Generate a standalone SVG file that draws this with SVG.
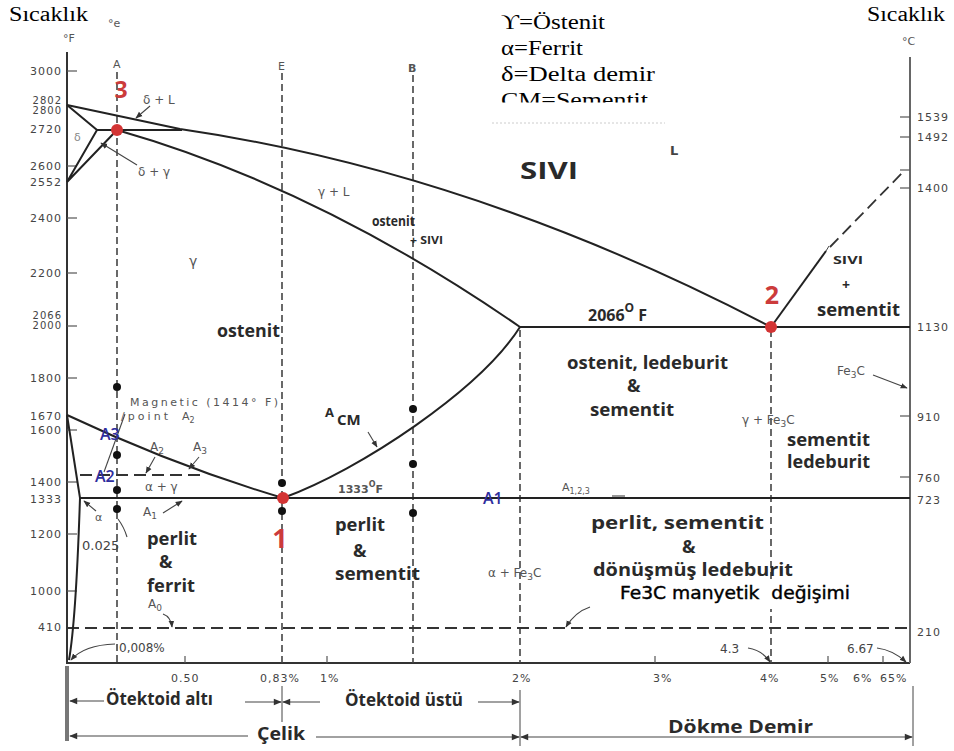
<svg xmlns="http://www.w3.org/2000/svg" width="954" height="751" viewBox="0 0 954 751">
<defs>
<style>
.ax{stroke:#333;stroke-width:2;fill:none}
.rax{stroke:#666;stroke-width:2;fill:none}
.ln{stroke:#222;stroke-width:2;fill:none}
.dash{stroke:#444;stroke-width:1.6;stroke-dasharray:7 4;fill:none}
.hdash{stroke:#333;stroke-width:1.8;stroke-dasharray:12 6;fill:none}
.thin{stroke:#444;stroke-width:1;fill:none}
.ldr{stroke:#444;stroke-width:1.1;fill:none}
.tk{stroke:#555;stroke-width:1.2}
.num{font-family:"DejaVu Sans",sans-serif;font-size:11px;fill:#444;letter-spacing:1px}
.sm{font-family:"DejaVu Sans",sans-serif;font-size:11px;fill:#555}
.bd{font-family:"Open Sans",sans-serif;font-weight:700;font-size:18px;fill:#2a2a2a}
.red{font-family:"Open Sans",sans-serif;font-weight:700;fill:#cc3b3b;text-anchor:middle}
.blue{font-family:"Open Sans",sans-serif;font-weight:600;font-size:16px;fill:#2e2e9e}
.serif{font-family:"Liberation Serif","DejaVu Serif",serif;font-size:20px;fill:#000}
.rdot{fill:#d33434}
.bdot{fill:#111}
</style>
<marker id="ah" viewBox="0 0 10 10" refX="9" refY="5" markerWidth="7" markerHeight="7" orient="auto-start-reverse" markerUnits="userSpaceOnUse"><path d="M0,1 L10,5 L0,9 z" fill="#333"/></marker>
<marker id="ahb" viewBox="0 0 10 10" refX="9" refY="5" markerWidth="9" markerHeight="8" orient="auto-start-reverse" markerUnits="userSpaceOnUse"><path d="M0,1 L10,5 L0,9 z" fill="#333"/></marker>
<clipPath id="legclip"><rect x="490" y="0" width="200" height="102.5"/></clipPath>
</defs>
<rect width="954" height="751" fill="#fff"/>

<g id="titles">
<text class="serif" x="9" y="21" textLength="79" lengthAdjust="spacingAndGlyphs">Sıcaklık</text>
<text class="serif" x="867" y="21" textLength="78" lengthAdjust="spacingAndGlyphs">Sıcaklık</text>
<text class="sm" x="63" y="42" font-size="10">°F</text>
<text class="sm" x="108" y="27" font-size="9">°e</text>
<text class="sm" x="902" y="45" font-size="10">°C</text>
</g>

<g id="legend" clip-path="url(#legclip)">
<text class="serif" x="501" y="29" textLength="104" lengthAdjust="spacingAndGlyphs">ϒ=Östenit</text>
<text class="serif" x="501" y="55" textLength="82" lengthAdjust="spacingAndGlyphs">α=Ferrit</text>
<text class="serif" x="501" y="81" textLength="154" lengthAdjust="spacingAndGlyphs">δ=Delta demir</text>
<text class="serif" x="501" y="107" textLength="147" lengthAdjust="spacingAndGlyphs">CM=Sementit</text>
</g>
<line x1="492" y1="123" x2="665" y2="123" stroke="#ccc" stroke-width="1" stroke-dasharray="2 2"/>

<g id="axes">
<line class="ax" x1="67" y1="52" x2="67" y2="663"/>
<line class="ax" x1="66" y1="663" x2="910" y2="663"/>
<line class="rax" x1="910" y1="57" x2="910" y2="663"/>
<g id="left-ticks">
<line class="tk" x1="67" y1="71" x2="77" y2="71"/>
<line class="tk" x1="67" y1="166" x2="77" y2="166"/>
<line class="tk" x1="67" y1="218" x2="77" y2="218"/>
<line class="tk" x1="67" y1="273" x2="77" y2="273"/>
<line class="tk" x1="67" y1="326" x2="77" y2="326"/>
<line class="tk" x1="67" y1="378" x2="77" y2="378"/>
<line class="tk" x1="67" y1="430" x2="77" y2="430"/>
<line class="tk" x1="67" y1="482" x2="77" y2="482"/>
<line class="tk" x1="67" y1="534" x2="77" y2="534"/>
<line class="tk" x1="67" y1="591" x2="77" y2="591"/>
</g>
<g id="left-labels" class="num" text-anchor="end">
<text x="62" y="75">3000</text>
<text x="62" y="104" font-size="10">2802</text>
<text x="62" y="114" font-size="10">2800</text>
<text x="62" y="133">2720</text>
<text x="62" y="170">2600</text>
<text x="62" y="186">2552</text>
<text x="62" y="222">2400</text>
<text x="62" y="277">2200</text>
<text x="62" y="319" font-size="10">2066</text>
<text x="62" y="329" font-size="10">2000</text>
<text x="62" y="382">1800</text>
<text x="62" y="420">1670</text>
<text x="62" y="434">1600</text>
<text x="62" y="486">1400</text>
<text x="62" y="503">1333</text>
<text x="62" y="538">1200</text>
<text x="62" y="595">1000</text>
<text x="62" y="631">410</text>
</g>
<g id="right-ticks">
<line class="tk" x1="900" y1="117" x2="910" y2="117"/>
<line class="tk" x1="900" y1="137" x2="910" y2="137"/>
<line class="tk" x1="900" y1="170" x2="910" y2="170"/>
<line class="tk" x1="900" y1="188" x2="910" y2="188"/>
<line class="tk" x1="900" y1="416" x2="910" y2="416"/>
<line class="tk" x1="900" y1="477" x2="910" y2="477"/>
</g>
<g id="right-labels" class="num">
<text x="917" y="121">1539</text>
<text x="917" y="141">1492</text>
<text x="917" y="192">1400</text>
<text x="917" y="331">1130</text>
<text x="917" y="421">910</text>
<text x="917" y="482">760</text>
<text x="917" y="504">723</text>
<text x="917" y="636">210</text>
</g>
<g id="bottom-ticks">
<line class="tk" x1="185" y1="656" x2="185" y2="663"/>
<line class="tk" x1="327" y1="656" x2="327" y2="663"/>
<line class="tk" x1="655" y1="656" x2="655" y2="663"/>
<line class="tk" x1="828" y1="656" x2="828" y2="663"/>
<line class="tk" x1="883" y1="656" x2="883" y2="663"/>
</g>
<g id="bottom-labels" class="num">
<text x="171" y="682">0.50</text>
<text x="260" y="682">0,83%</text>
<text x="320" y="682">1%</text>
<text x="512" y="682">2%</text>
<text x="653" y="682">3%</text>
<text x="760" y="682">4%</text>
<text x="820" y="682">5%</text>
<text x="853" y="682">6%</text>
<text x="880" y="682">65%</text>
</g>
</g>

<g id="guides">
<line class="dash" x1="117" y1="72" x2="117" y2="663"/>
<line class="dash" x1="282" y1="73" x2="282" y2="663"/>
<line class="dash" x1="413" y1="75" x2="413" y2="663"/>
<line class="dash" x1="520" y1="330" x2="520" y2="663"/>
<line class="dash" x1="771" y1="330" x2="771" y2="663"/>
<line class="hdash" x1="67" y1="628" x2="910" y2="628"/>
<path class="hdash" d="M80,475 L203,475" stroke-dasharray="10 5"/>
<path class="hdash" d="M830,247 L903,172" stroke-dasharray="8 5"/>
<text class="sm" x="113" y="68">A</text>
<text class="sm" x="278" y="70">E</text>
<text class="sm" x="408" y="72" font-weight="bold">B</text>
</g>

<g id="phase-lines">
<path class="ln" d="M67,105 L180,129 Q474.5,172 771,327"/>
<path class="ln" d="M97,130 L182,130"/>
<path class="ln" d="M67,105 L97,130 L67,182 M67,182 L117,130"/>
<path class="ln" d="M117,130 Q318.5,187.5 520,327"/>
<path class="ln" d="M520,327 L910,327"/>
<path class="ln" d="M283,498 C360,470 480,390 520,327"/>
<path class="ln" d="M67,415 Q175,466 283,498"/>
<path class="ln" d="M80,498 L910,498"/>
<path class="ln" d="M67,415 L80,498"/>
<path class="ln" d="M80,498 Q76,620 69,660"/>
<path class="ln" d="M771,327 L826,251"/>
<path class="thin" d="M826,251 L829,246"/>
</g>

<g id="leaders">
<path class="ldr" marker-end="url(#ah)" d="M150,106 L136,118"/>
<path class="ldr" marker-end="url(#ah)" d="M137,165 L101,143"/>
<path class="ldr" d="M125,414 L104,472"/>
<path class="ldr" marker-end="url(#ah)" d="M155,457 L146,473"/>
<path class="ldr" marker-end="url(#ah)" d="M199,457 L189,469"/>
<path class="ldr" marker-end="url(#ah)" d="M163,513 L182,501"/>
<path class="ldr" marker-end="url(#ah)" d="M96,511 L84,501"/>
<path class="ldr" d="M118,519 Q124,527 127,537"/>
<path class="ldr" marker-end="url(#ah)" d="M163,614 Q171,617 172,627"/>
<path class="ldr" marker-end="url(#ah)" d="M115,644 Q84,645 71,660"/>
<path class="ldr" marker-end="url(#ah)" d="M368,432 L377,447"/>
<path class="ldr" marker-end="url(#ah)" d="M873,375 L907,388"/>
<path class="ldr" marker-end="url(#ah)" d="M748,648 Q762,650 770,662"/>
<path class="ldr" marker-end="url(#ah)" d="M877,648 Q893,650 906,662"/>
<path class="ldr" marker-end="url(#ah)" d="M590,607 Q575,612 566,627"/>
<path class="ldr" d="M612,496 L625,496"/>
</g>

<g id="points">
<circle class="rdot" cx="117" cy="130" r="6"/>
<circle class="rdot" cx="283" cy="498" r="6"/>
<circle class="rdot" cx="771" cy="327" r="6"/>
<circle class="bdot" cx="117" cy="387" r="4"/>
<circle class="bdot" cx="117" cy="455" r="4"/>
<circle class="bdot" cx="117" cy="490" r="4"/>
<circle class="bdot" cx="117" cy="509" r="4"/>
<circle class="bdot" cx="282" cy="483" r="4"/>
<circle class="bdot" cx="282" cy="511" r="4"/>
<circle class="bdot" cx="413" cy="409" r="4"/>
<circle class="bdot" cx="413" cy="464" r="4"/>
<circle class="bdot" cx="413" cy="513" r="4"/>
<text class="red" x="121" y="98" font-size="23">3</text>
<text class="red" x="280" y="548" font-size="27">1</text>
<text class="red" x="772" y="304" font-size="25">2</text>
</g>

<g id="small-labels" class="sm">
<text x="143" y="104" font-size="12">δ + L</text>
<text x="138" y="176" font-size="12">δ + γ</text>
<text x="74" y="141" font-size="11" fill="#888">δ</text>
<text x="670" y="155" font-size="13" font-weight="bold" fill="#444">L</text>
<text x="318" y="196" font-size="12">γ + L</text>
<text x="189" y="266" font-size="14">γ</text>
<text x="130" y="406" font-size="11" textLength="148" lengthAdjust="spacing">Magnetic (1414° F)</text>
<text x="121" y="420" font-size="11" textLength="47" lengthAdjust="spacing">/point</text>
<text x="182" y="420" font-size="11">A<tspan font-size="8" dy="3">2</tspan></text>
<text x="150" y="451" font-size="12">A<tspan font-size="9" dy="3">2</tspan></text>
<text x="193" y="451" font-size="12">A<tspan font-size="9" dy="3">3</tspan></text>
<text x="145" y="491" font-size="12">α + γ</text>
<text x="143" y="516" font-size="12">A<tspan font-size="9" dy="3">1</tspan></text>
<text x="95" y="521" font-size="11">α</text>
<text x="82" y="550" font-size="13" fill="#444">0.025</text>
<text x="148" y="608" font-size="12">A<tspan font-size="9" dy="3">0</tspan></text>
<text x="119" y="652" font-size="12" fill="#444">0,008%</text>
<text x="338" y="493" font-size="11" font-weight="bold" fill="#555">1333<tspan font-size="8" dy="-6">O</tspan><tspan dy="6">F</tspan></text>
<text x="562" y="491" font-size="11">A<tspan font-size="8" dy="3">1,2,3</tspan></text>
<text x="488" y="577" font-size="12">α + Fe<tspan font-size="9" dy="3">3</tspan><tspan dy="-3">C</tspan></text>
<text x="742" y="424" font-size="12">γ + Fe<tspan font-size="9" dy="3">3</tspan><tspan dy="-3">C</tspan></text>
<text x="837" y="375" font-size="12">Fe<tspan font-size="9" dy="3">3</tspan><tspan dy="-3">C</tspan></text>
<text x="720" y="653" font-size="12" fill="#444">4.3</text>
<text x="847" y="653" font-size="12" fill="#444">6.67</text>
</g>

<g id="blue-labels" class="blue">
<text x="100" y="440">A3</text>
<text x="95" y="482">A2</text>
<text x="483" y="504">A1</text>
</g>

<g id="region-labels" class="bd">
<text x="520" y="179" font-size="23" textLength="58" lengthAdjust="spacingAndGlyphs">SIVI</text>
<text x="372" y="226" font-size="15" textLength="43" lengthAdjust="spacingAndGlyphs">ostenit</text>
<text x="410" y="244" font-size="11" textLength="33" lengthAdjust="spacingAndGlyphs">+ SIVI</text>
<text x="217" y="337" textLength="63" lengthAdjust="spacingAndGlyphs">ostenit</text>
<text x="325" y="417" font-size="13">A</text>
<text x="337" y="425" font-size="15">CM</text>
<text x="588" y="321" font-size="16">2066<tspan font-size="12" dy="-9">O</tspan><tspan dy="9"> F</tspan></text>
<text x="567" y="369" textLength="161" lengthAdjust="spacingAndGlyphs">ostenit, ledeburit</text>
<text x="627" y="392">&amp;</text>
<text x="590" y="416" textLength="84" lengthAdjust="spacingAndGlyphs">sementit</text>
<text x="833" y="264" font-size="11" textLength="30" lengthAdjust="spacingAndGlyphs">SIVI</text>
<text x="842" y="290" font-size="14">+</text>
<text x="817" y="316" textLength="83" lengthAdjust="spacingAndGlyphs">sementit</text>
<text x="787" y="446" textLength="83" lengthAdjust="spacingAndGlyphs">sementit</text>
<text x="787" y="468" textLength="83" lengthAdjust="spacingAndGlyphs">ledeburit</text>
<text x="147" y="545" textLength="50" lengthAdjust="spacingAndGlyphs">perlit</text>
<text x="159" y="568">&amp;</text>
<text x="147" y="592" textLength="48" lengthAdjust="spacingAndGlyphs">ferrit</text>
<text x="335" y="531" textLength="50" lengthAdjust="spacingAndGlyphs">perlit</text>
<text x="353" y="557">&amp;</text>
<text x="335" y="580" textLength="85" lengthAdjust="spacingAndGlyphs">sementit</text>
<text x="591" y="529" textLength="173" lengthAdjust="spacingAndGlyphs">perlit, sementit</text>
<text x="682" y="553">&amp;</text>
<text x="593" y="576" textLength="200" lengthAdjust="spacingAndGlyphs">dönüşmüş ledeburit</text>
</g>

<g id="fe3c-note">
<rect x="615" y="583" width="240" height="26" fill="#fff"/>
<text x="620" y="599" xml:space="preserve" font-family="DejaVu Sans, sans-serif" font-size="18" fill="#000" stroke="#000" stroke-width="0.4" textLength="230" lengthAdjust="spacingAndGlyphs">Fe3C manyetik  değişimi</text>
</g>

<g id="bottom-annotations">
<rect x="65" y="666" width="4" height="75" fill="#777"/>
<line class="thin" x1="282" y1="686" x2="282" y2="722" stroke-width="1.5"/>
<line class="thin" x1="520" y1="690" x2="520" y2="746" stroke-width="1.5"/>
<line class="thin" x1="913" y1="686" x2="913" y2="746" stroke-width="1.5"/>
<path class="ldr" marker-start="url(#ahb)" d="M70,701 L104,701"/>
<text class="bd" x="106" y="705" font-size="16" textLength="107" lengthAdjust="spacingAndGlyphs">Ötektoid altı</text>
<path class="ldr" marker-end="url(#ahb)" d="M245,702 L281,702"/>
<path class="ldr" marker-end="url(#ahb)" d="M320,702 L283,702"/>
<text class="bd" x="345" y="706" font-size="16" textLength="118" lengthAdjust="spacingAndGlyphs">Ötektoid üstü</text>
<path class="ldr" marker-end="url(#ahb)" d="M478,702 L519,702"/>
<path class="ldr" marker-start="url(#ahb)" d="M70,736 L248,736"/>
<text class="bd" x="257" y="740" font-size="19" textLength="48" lengthAdjust="spacingAndGlyphs">Çelik</text>
<path class="ldr" marker-end="url(#ahb)" d="M316,737 L519,737"/>
<path class="ldr" marker-start="url(#ahb)" marker-end="url(#ahb)" d="M521,737 L912,737"/>
<text class="bd" x="668" y="733" font-size="19" textLength="145" lengthAdjust="spacingAndGlyphs">Dökme Demir</text>
</g>
</svg>
